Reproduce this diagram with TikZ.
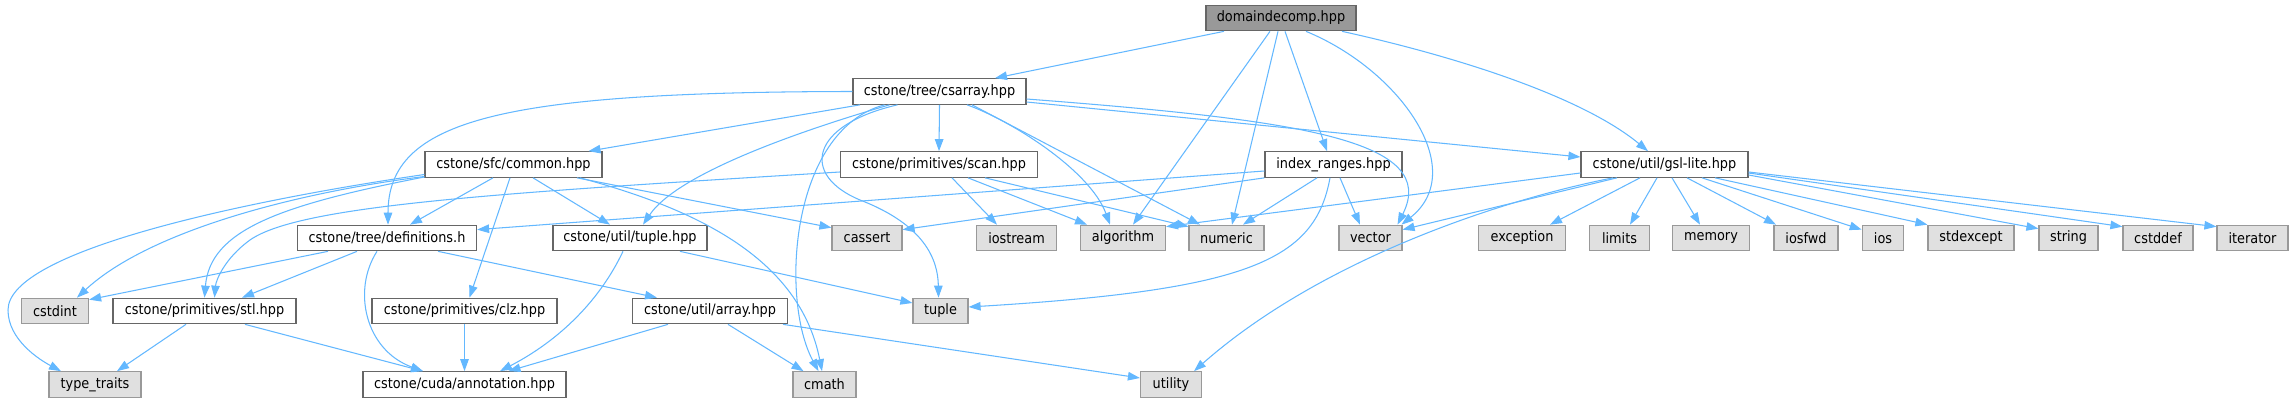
\documentclass[tikz,border=0pt]{standalone}
\usepackage{fontspec}
\usetikzlibrary{arrows.meta}
\newfontfamily\dvs{DejaVu Sans Condensed}
\definecolor{edgecol}{HTML}{63B8FF}
\definecolor{bordint}{HTML}{666666}
\definecolor{bordext}{HTML}{999999}
\definecolor{extfill}{HTML}{E0E0E0}
\definecolor{rootfill}{HTML}{999999}
\tikzset{
  basebox/.style={draw, rectangle, inner sep=0pt, minimum height=25.5pt, line width=1.2pt,
    font={\dvs\fontsize{14.3pt}{16pt}\selectfont}},
  intbox/.style={basebox, draw=bordint, fill=white},
  extbox/.style={basebox, draw=bordext, fill=extfill},
  rootbox/.style={basebox, draw=bordint, fill=rootfill},
  dep/.style={draw=edgecol, line width=1.05pt, -{Triangle[length=12pt,width=8.5pt,fill=edgecol]}}
}
\begin{document}
\begin{tikzpicture}[x=1pt,y=-1pt]
\useasboundingbox (0,0) rectangle (2293,403);
\fill[white] (0,0) rectangle (2293,403);
% row 1
\node[rootbox, minimum width=150] (dd) at (1281,18) {domaindecomp.hpp};
% row 2
\node[intbox, minimum width=173] (csarray) at (939.5,91.5) {cstone/tree/csarray.hpp};
% row 3
\node[intbox, minimum width=177] (common) at (513.5,164.5) {cstone/sfc/common.hpp};
\node[intbox, minimum width=197] (scan) at (939,164.5) {cstone/primitives/scan.hpp};
\node[intbox, minimum width=137] (ir) at (1333.5,164.5) {index\_ranges.hpp};
\node[intbox, minimum width=167] (gsl) at (1664.5,164.5) {cstone/util/gsl-lite.hpp};
% row 4
\node[intbox, minimum width=179] (definitions) at (387,238) {cstone/tree/definitions.h};
\node[intbox, minimum width=154] (utiltuple) at (630,238) {cstone/util/tuple.hpp};
\node[extbox, minimum width=70] (cassert) at (867,238) {cassert};
\node[extbox, minimum width=80] (iostream) at (1016.5,238) {iostream};
\node[extbox, minimum width=85] (algorithm) at (1123,238) {algorithm};
\node[extbox, minimum width=75] (numeric) at (1226.5,238) {numeric};
\node[extbox, minimum width=63] (vector) at (1370.5,238) {vector};
\node[extbox, minimum width=87] (exception) at (1522,238) {exception};
\node[extbox, minimum width=60] (limits) at (1619.5,238) {limits};
\node[extbox, minimum width=77.5] (memory) at (1711,238) {memory};
\node[extbox, minimum width=64] (iosfwd) at (1806,238) {iosfwd};
\node[extbox, minimum width=41.5] (ios) at (1883,238) {ios};
\node[extbox, minimum width=86] (stdexcept) at (1971,238) {stdexcept};
\node[extbox, minimum width=59] (string) at (2068.5,238) {string};
\node[extbox, minimum width=70] (cstddef) at (2158,238) {cstddef};
\node[extbox, minimum width=71] (iterator) at (2252.5,238) {iterator};
% row 5
\node[extbox, minimum width=67] (cstdint) at (55,311) {cstdint};
\node[intbox, minimum width=183] (stl) at (204.5,311) {cstone/primitives/stl.hpp};
\node[intbox, minimum width=185] (clz) at (464.5,311) {cstone/primitives/clz.hpp};
\node[intbox, minimum width=155] (array) at (710,311) {cstone/util/array.hpp};
\node[extbox, minimum width=55] (tuple) at (940.5,311) {tuple};
% row 6
\node[extbox, minimum width=92] (typetraits) at (95,384.5) {type\_traits};
\node[intbox, minimum width=203] (annotation) at (464.5,384.5) {cstone/cuda/annotation.hpp};
\node[extbox, minimum width=63] (cmath) at (824.5,384.5) {cmath};
\node[extbox, minimum width=61] (utility) at (1171,384.5) {utility};

% domaindecomp
\draw[dep] ([xshift=-57pt]dd.south) -- ([xshift=55.5pt]csarray.north);
\draw[dep] ([xshift=-11pt]dd.south) -- ([xshift=10pt]algorithm.north);
\draw[dep] ([xshift=-3pt]dd.south) -- ([xshift=5.5pt]numeric.north);
\draw[dep] ([xshift=4pt]dd.south) -- ([xshift=-6.5pt]ir.north);
\draw[dep] ([xshift=25pt]dd.south) .. controls (1400,70) and (1470,170) .. ([xshift=31pt]vector.north);
\draw[dep] ([xshift=61pt]dd.south) .. controls (1450,55) and (1580,95) .. ([xshift=-16.5pt]gsl.north);
% csarray
\draw[dep] (csarray.west) .. controls (500,92) and (388,120) .. ([xshift=1pt]definitions.north);
\draw[dep] ([xshift=-79.5pt]csarray.south) -- ([xshift=75pt]common.north);
\draw[dep] ([xshift=-50pt]csarray.south) .. controls (820,125) and (680,170) .. ([xshift=13pt]utiltuple.north);
\draw[dep] ([xshift=-55pt]csarray.south) .. controls (790,130) and (780,300) .. ([xshift=-6pt]cmath.north);
\draw[dep] ([xshift=-42pt]csarray.south) .. controls (810,125) and (800,175) .. (860,200) .. controls (925,225) and (938,260) .. ([xshift=-2pt]tuple.north);
\draw[dep] (csarray.south) -- (scan.north);
\draw[dep] ([xshift=27.5pt]csarray.south) .. controls (1010,120) and (1090,170) .. ([xshift=-13pt]algorithm.north);
\draw[dep] ([xshift=32.5pt]csarray.south) -- ([xshift=-26.5pt]numeric.north);
\draw[dep] ([yshift=-7.5pt]csarray.east) .. controls (1300,120) and (1440,140) .. ([xshift=27pt]vector.north);
\draw[dep] ([yshift=-10.5pt]csarray.east) -- ([yshift=7.5pt]gsl.west);
% common
\draw[dep] ([xshift=-20.5pt]common.south) -- ([xshift=23pt]definitions.north);
\draw[dep] ([xshift=-3.5pt]common.south) -- ([xshift=5pt]clz.north);
\draw[dep] ([xshift=19.5pt]common.south) -- ([xshift=-20pt]utiltuple.north);
\draw[dep] ([xshift=63.5pt]common.south) -- ([yshift=-3pt]cassert.north west);
\draw[dep] ([xshift=66.5pt]common.south) .. controls (700,210) and (800,260) .. ([xshift=-2.5pt]cmath.north);
\draw[dep] ([yshift=-10pt]common.west) .. controls (250,200) and (8,250) .. (8,310) .. controls (8,340) and (40,360) .. ([xshift=-34pt]typetraits.north);
\draw[dep] ([yshift=-12pt]common.west) .. controls (300,192) and (150,230) .. ([xshift=22pt]cstdint.north);
\draw[dep] ([yshift=-12.5pt]common.west) .. controls (280,205) and (210,230) .. (stl.north);
% definitions
\draw[dep] ([xshift=-59pt]definitions.south) -- ([yshift=-2pt]cstdint.north east);
\draw[dep] ([xshift=-30pt]definitions.south) -- ([xshift=37.5pt]stl.north);
\draw[dep] ([xshift=-10pt]definitions.south) .. controls (352,290) and (365,350) .. ([xshift=-41.5pt]annotation.north);
\draw[dep] ([xshift=51pt]definitions.south) -- ([xshift=-53pt]array.north);
% util tuple
\draw[dep] ([xshift=-7pt]utiltuple.south) .. controls (600,300) and (560,340) .. ([xshift=35.5pt]annotation.north);
\draw[dep] ([xshift=50pt]utiltuple.south) -- ([yshift=8pt]tuple.west);
% stl
\draw[dep] ([xshift=-18.5pt]stl.south) -- ([xshift=22pt]typetraits.north);
\draw[dep] ([xshift=40.5pt]stl.south) -- ([xshift=-41.5pt]annotation.north);
% clz
\draw[dep] (clz.south) -- (annotation.north);
% array
\draw[dep] ([xshift=-42pt]array.south) -- ([xshift=44pt]annotation.north);
\draw[dep] ([xshift=18pt]array.south) -- ([xshift=-21pt]cmath.north);
\draw[dep] ([xshift=73pt]array.south) -- ([yshift=6.5pt]utility.west);
% scan
\draw[dep] ([yshift=-7.5pt]scan.west) .. controls (500,193) and (300,205) .. (250,240) .. controls (225,258) and (216,280) .. ([xshift=10pt]stl.north);
\draw[dep] ([xshift=13pt]scan.south) -- ([xshift=-19.5pt]iostream.north);
\draw[dep] ([xshift=29pt]scan.south) -- ([xshift=-36pt]algorithm.north);
\draw[dep] ([xshift=46pt]scan.south) -- ([yshift=-2pt]numeric.north west);
% index_ranges
\draw[dep] ([yshift=-6.5pt]ir.west) -- ([yshift=-5pt]definitions.north east);
\draw[dep] (ir.south west) -- ([yshift=-5pt]cassert.north east);
\draw[dep] ([xshift=-16.5pt]ir.south) -- ([xshift=16.5pt]numeric.north);
\draw[dep] ([xshift=6.5pt]ir.south) -- ([xshift=-10.5pt]vector.north);
\draw[dep] ([xshift=-3.5pt]ir.south) .. controls (1315,260) and (1250,290) .. ([yshift=4pt]tuple.east);
% gsl-lite
\draw[dep] ([yshift=-8.5pt]gsl.west) -- ([yshift=-2pt]algorithm.north east);
\draw[dep] ([xshift=-47.5pt]gsl.south) -- ([yshift=-5pt]vector.north east);
\draw[dep] ([xshift=-51.5pt]gsl.south) .. controls (1500,200) and (1320,260) .. ([xshift=23pt]utility.north);
\draw[dep] ([xshift=-24.5pt]gsl.south) -- ([xshift=28pt]exception.north);
\draw[dep] ([xshift=-7.5pt]gsl.south) -- ([xshift=10.5pt]limits.north);
\draw[dep] ([xshift=7.5pt]gsl.south) -- ([xshift=-11pt]memory.north);
\draw[dep] ([xshift=22.5pt]gsl.south) -- ([xshift=-30pt]iosfwd.north);
\draw[dep] ([xshift=37.5pt]gsl.south) -- ([yshift=-5pt]ios.north west);
\draw[dep] ([xshift=50.5pt]gsl.south) -- (stdexcept.north west);
\draw[dep] ([yshift=-10.5pt]gsl.east) -- ([yshift=-4pt]string.north west);
\draw[dep] ([yshift=-8.5pt]gsl.east) -- ([yshift=-2pt]cstddef.north west);
\draw[dep] ([yshift=-7.5pt]gsl.east) -- ([yshift=-2pt]iterator.north west);
\end{tikzpicture}
\end{document}
